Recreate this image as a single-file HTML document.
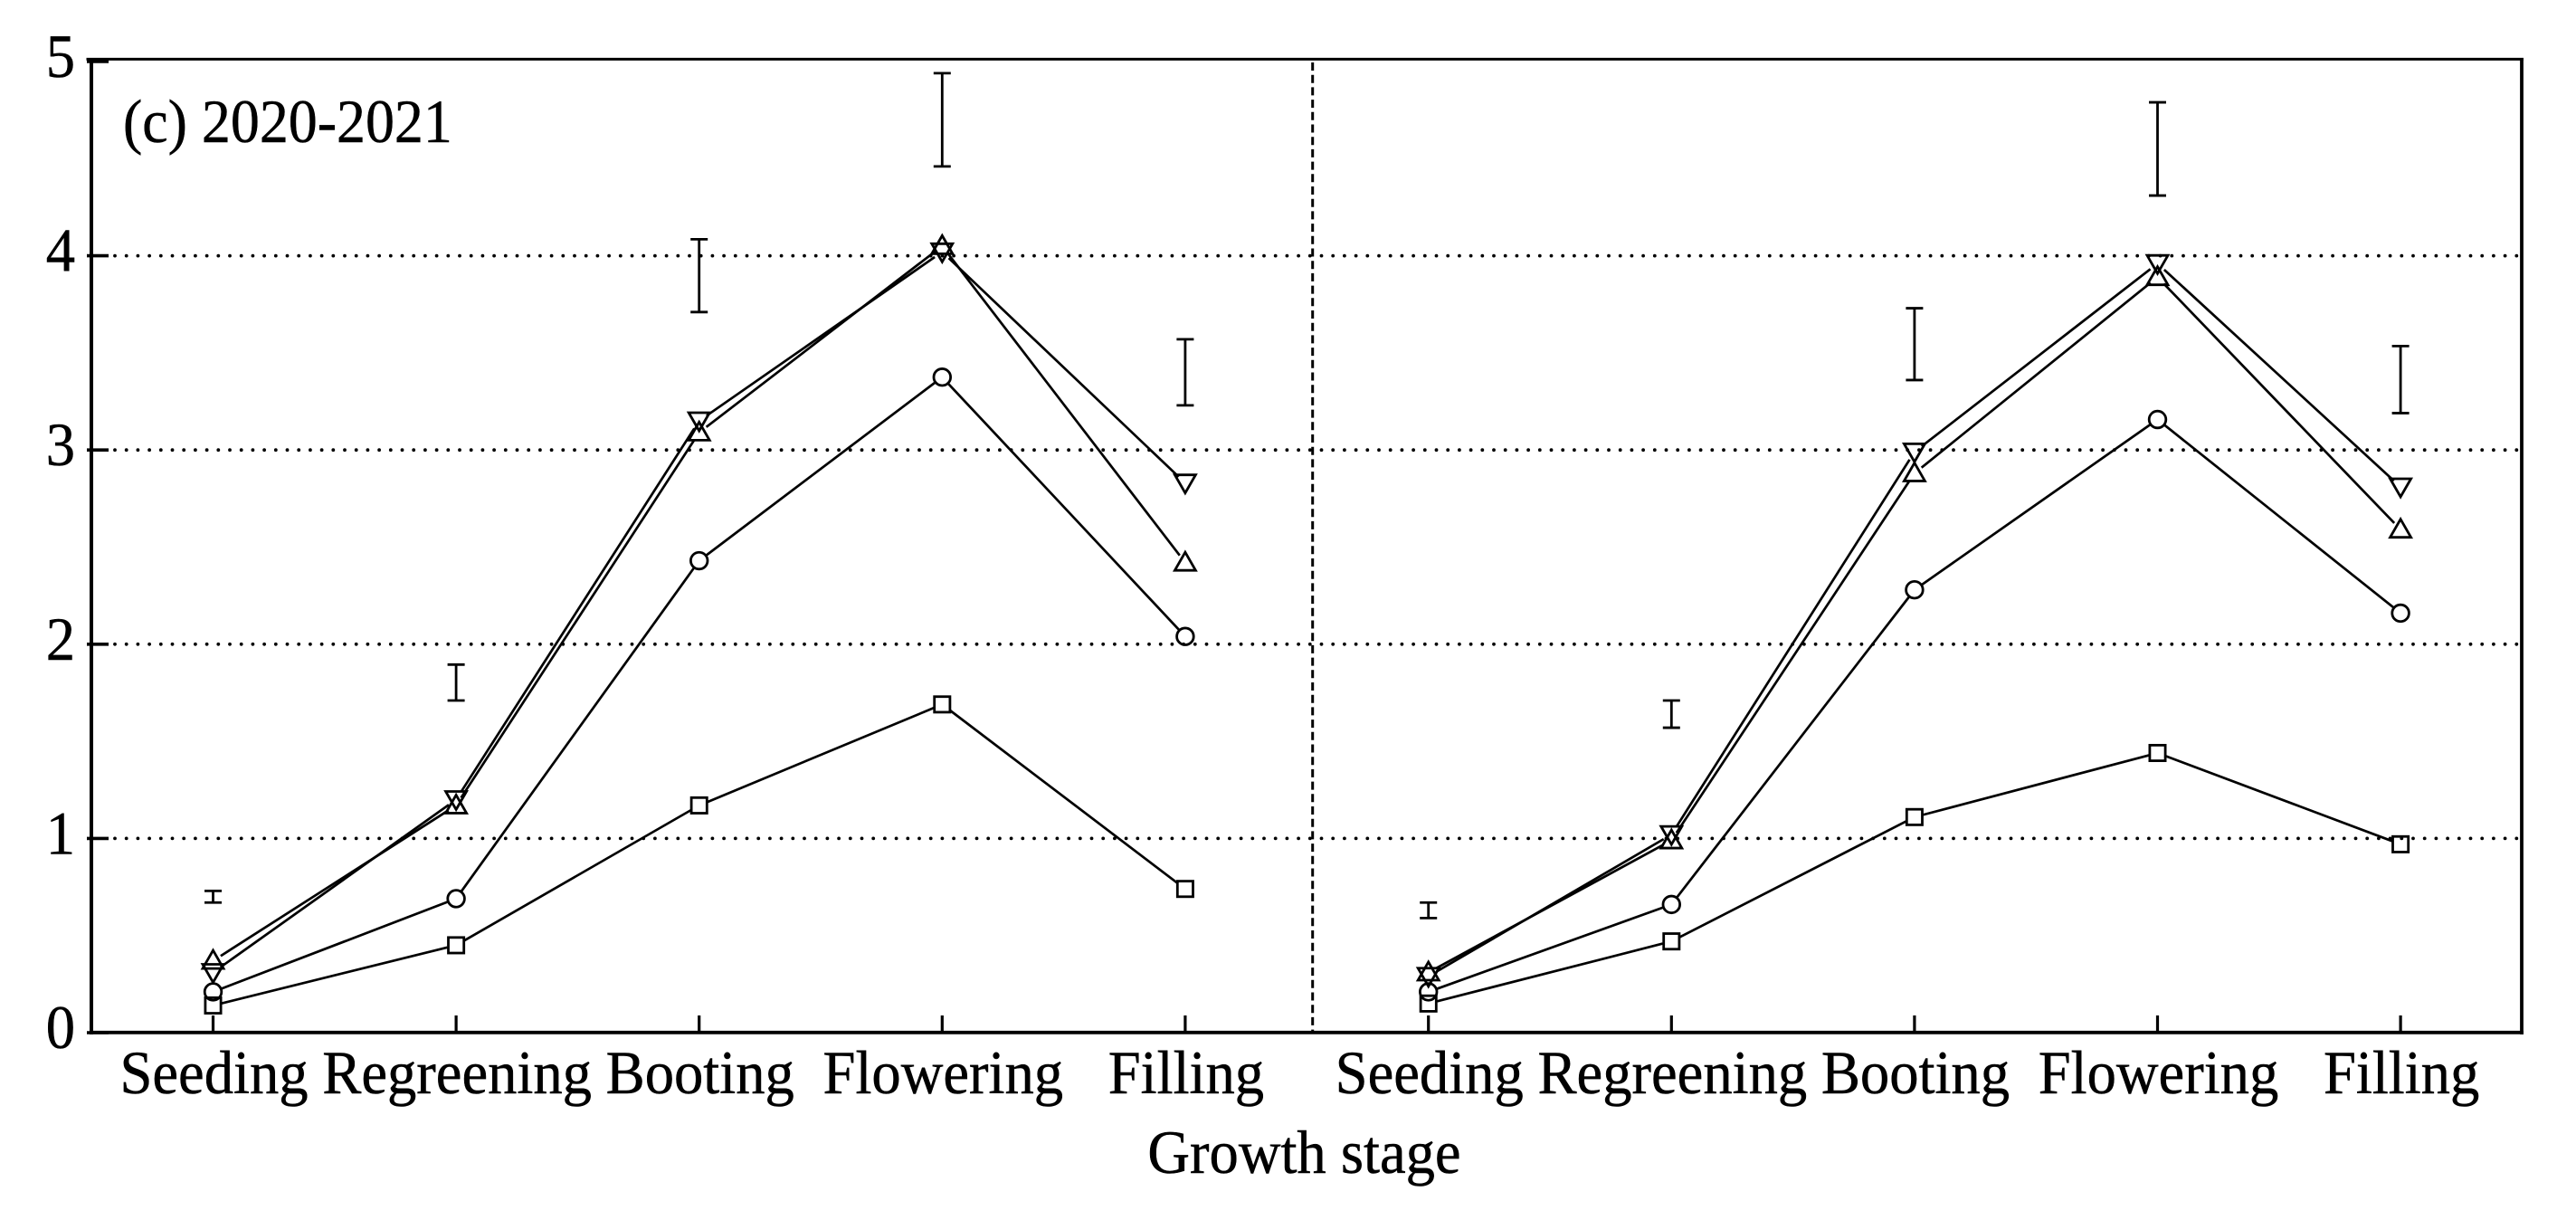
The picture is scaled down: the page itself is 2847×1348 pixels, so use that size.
<!DOCTYPE html>
<html lang="en">
<head>
<meta charset="utf-8">
<title>Growth stage chart (c) 2020-2021</title>
<style>
html,body{margin:0;padding:0;background:#fff;}
svg{display:block;}
text{font-family:"Liberation Serif",serif;font-size:68px;fill:#000;stroke:#000;stroke-width:0.5px;}
</style>
</head>
<body>
<svg id="chart" xmlns="http://www.w3.org/2000/svg" width="2847" height="1348" viewBox="0 0 2847 1348">
  <rect x="0" y="0" width="2847" height="1348" fill="#fff"/>
  <g id="grid"></g>
  <line x1="1450.7" y1="69" x2="1450.7" y2="1140" stroke="#000" stroke-width="3" stroke-dasharray="9 4.7"/>
  <g id="frame" stroke="#000" fill="none">
    <line x1="95.5" y1="65.4" x2="2789" y2="65.4" stroke-width="3"/>
    <line x1="101" y1="65" x2="101" y2="1143" stroke-width="4"/>
    <line x1="99" y1="1140.8" x2="2789" y2="1140.8" stroke-width="3.8"/>
    <line x1="2787" y1="65" x2="2787" y2="1143" stroke-width="3.8"/>
  </g>
  <g id="axes"></g>
  <g id="errorbars"></g>
  <g id="series"></g>
  <text transform="translate(136,157) scale(0.94,1)">(c) 2020-2021</text>
  <text transform="translate(1441.5,1296) scale(0.95,1)" text-anchor="middle">Growth stage</text>
</svg>
<script>
const categories = ['Seeding', 'Regreening', 'Booting', 'Flowering', 'Filling'];
const yTicks = [0, 1, 2, 3, 4, 5];
const gridValues = [1, 2, 3, 4];

const leftSquare = [0.14, 0.45, 1.17, 1.69, 0.74];
const leftCircle = [0.21, 0.69, 2.43, 3.375, 2.04];
const leftUp = [0.37, 1.17, 3.09, 4.05, 2.42];
const leftDown = [0.31, 1.2, 3.15, 4.02, 2.83];

const rightSquare = [0.15, 0.47, 1.11, 1.44, 0.97];
const rightCircle = [0.21, 0.66, 2.28, 3.157, 2.16];
const rightUp = [0.31, 0.99, 2.88, 3.89, 2.59];
const rightDown = [0.29, 1.02, 2.99, 3.96, 2.81];

const leftErrTop = [0.73, 1.895, 4.085, 4.94, 3.57];
const leftErrBottom = [0.67, 1.71, 3.71, 4.46, 3.23];
const rightErrTop = [0.67, 1.71, 3.73, 4.79, 3.535];
const rightErrBottom = [0.59, 1.57, 3.36, 4.31, 3.19];

const NS = 'http://www.w3.org/2000/svg';
const PLOT_BOTTOM = 1141, UNIT = 214.6;
const PANEL_START = [235.5, 1578.7], STEP = 268.6;
function yPos(v) { return PLOT_BOTTOM - UNIT * v; }
function xPos(panel, i) { return PANEL_START[panel] + STEP * i; }
function make(tag, parent) {
  const el = document.createElementNS(NS, tag);
  parent.appendChild(el);
  return el;
}
function setAll(el, attrs) {
  for (const k in attrs) el.setAttribute(k, attrs[k]);
}

const grid = document.getElementById('grid');
gridValues.forEach(function (v) {
  const l = make('line', grid);
  
  
  setAll(l, { x1: 127, x2: 2784, y1: yPos(v), y2: yPos(v), stroke: '#000', 'stroke-width': 3.8, 'stroke-linecap': 'round', 'stroke-dasharray': '0 12.7' });
});

const axes = document.getElementById('axes');
yTicks.forEach(function (v) {
  const t = make('line', axes);
  
  
  setAll(t, { x1: 96, x2: 120, y1: yPos(v), y2: yPos(v), stroke: '#000', 'stroke-width': 3.6 });
  const lab = make('text', axes);
  
  
  setAll(lab, { transform: 'translate(83,' + (yPos(v) + 17) + ') scale(0.95,1)', 'text-anchor': 'end' });
  lab.textContent = String(v);
});
[0, 1].forEach(function (p) {
  categories.forEach(function (c, i) {
    const t = make('line', axes);
    
    
    setAll(t, { x1: xPos(p, i), x2: xPos(p, i), y1: 1122, y2: 1141, stroke: '#000', 'stroke-width': 3.2 });
    const lab = make('text', axes);
    
    
    setAll(lab, { transform: 'translate(' + (xPos(p, i) + 1) + ',1208) scale(0.95,1)', 'text-anchor': 'middle' });
    lab.textContent = c;
  });
});

const errGroup = document.getElementById('errorbars');
function drawErrors(panel, tops, bottoms) {
  tops.forEach(function (top, i) {
    const x = xPos(panel, i), capW = 9.5;
    const g = make('g', errGroup);
    
    
    setAll(g, { stroke: '#000', 'stroke-width': 2.8 });
    const v = make('line', g);
    setAll(v, { x1: x, x2: x, y1: yPos(top), y2: yPos(bottoms[i]) });
    const c1 = make('line', g);
    setAll(c1, { x1: x - capW, x2: x + capW, y1: yPos(top), y2: yPos(top) });
    const c2 = make('line', g);
    setAll(c2, { x1: x - capW, x2: x + capW, y1: yPos(bottoms[i]), y2: yPos(bottoms[i]) });
  });
}
drawErrors(0, leftErrTop, leftErrBottom);
drawErrors(1, rightErrTop, rightErrBottom);

const seriesGroup = document.getElementById('series');
function drawMarker(g, kind, x, y) {
  let m;
  if (kind === 'square') {
    m = make('rect', g);
    setAll(m, { x: x - 8.6, y: y - 8.6, width: 17.2, height: 17.2 });
  } else if (kind === 'circle') {
    m = make('circle', g);
    setAll(m, { cx: x, cy: y, r: 9.3 });
  } else if (kind === 'up') {
    m = make('polygon', g);
    setAll(m, { points: (x) + ',' + (y - 11.5) + ' ' + (x + 11.5) + ',' + (y + 8.5) + ' ' + (x - 11.5) + ',' + (y + 8.5) });
  } else {
    m = make('polygon', g);
    setAll(m, { points: (x - 11.5) + ',' + (y - 9) + ' ' + (x + 11.5) + ',' + (y - 9) + ' ' + (x) + ',' + (y + 11) });
  }
  setAll(m, { fill: 'none', stroke: '#000', 'stroke-width': 2.8 });
  
  
}
function drawSeries(panel, kind, values) {
  const g = make('g', seriesGroup);
  
  
  const trim = 10;
  for (let i = 0; i < values.length - 1; i++) {
    const x1 = xPos(panel, i), y1 = yPos(values[i]);
    const x2 = xPos(panel, i + 1), y2 = yPos(values[i + 1]);
    const d = Math.hypot(x2 - x1, y2 - y1);
    const ux = (x2 - x1) / d, uy = (y2 - y1) / d;
    const seg = make('line', g);
    
    
    setAll(seg, { x1: x1 + ux * trim, y1: y1 + uy * trim, x2: x2 - ux * trim, y2: y2 - uy * trim, stroke: '#000', 'stroke-width': 2.7 });
  }
  values.forEach(function (v, i) { drawMarker(g, kind, xPos(panel, i), yPos(v)); });
}
drawSeries(0, 'square', leftSquare);
drawSeries(0, 'circle', leftCircle);
drawSeries(0, 'up', leftUp);
drawSeries(0, 'down', leftDown);
drawSeries(1, 'square', rightSquare);
drawSeries(1, 'circle', rightCircle);
drawSeries(1, 'up', rightUp);
drawSeries(1, 'down', rightDown);
</script>
</body>
</html>
